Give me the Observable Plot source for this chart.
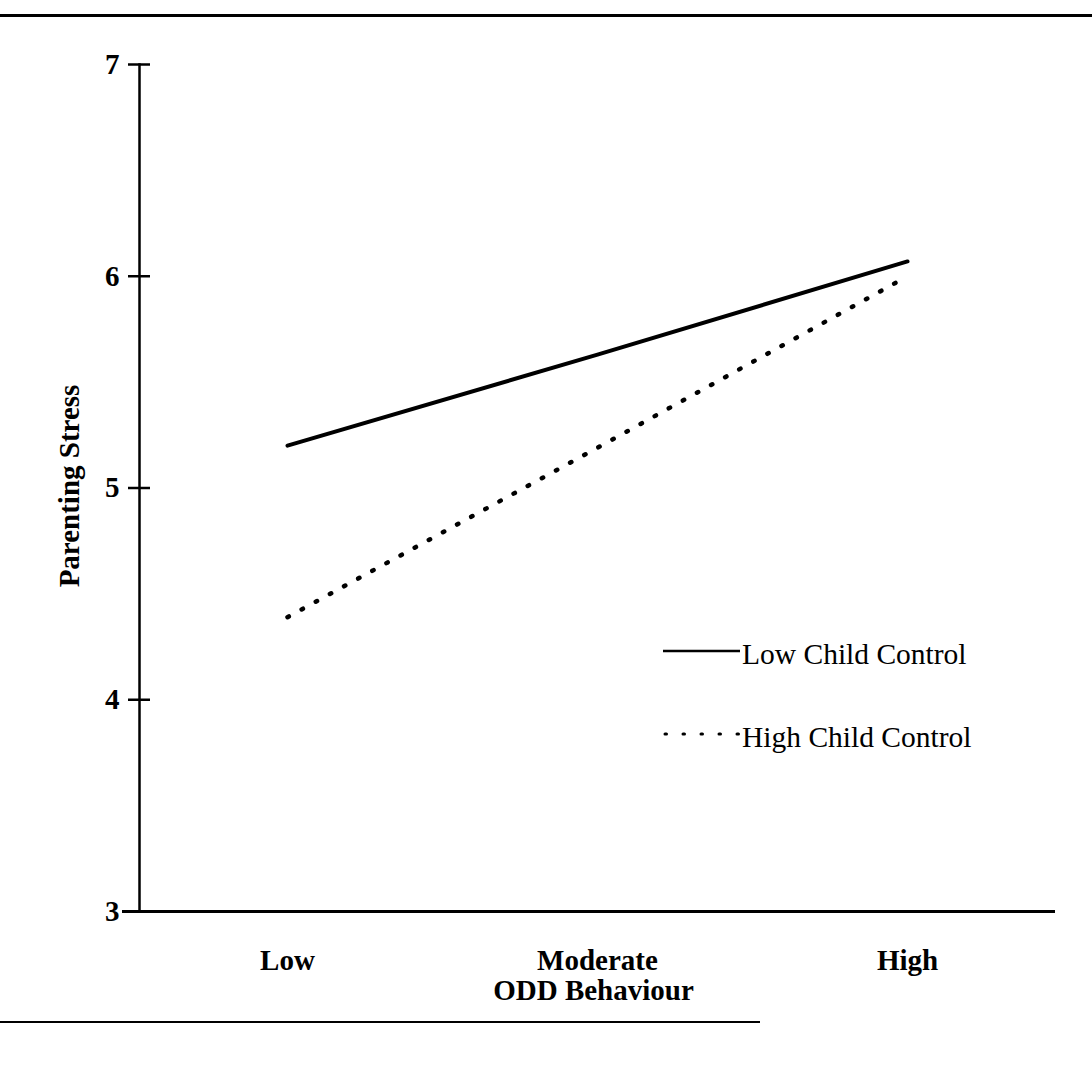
<!DOCTYPE html>
<html><head><meta charset="utf-8">
<script src="https://cdn.jsdelivr.net/npm/d3@7"></script>
<script src="https://cdn.jsdelivr.net/npm/@observablehq/plot@0.6"></script>
<style>
body{margin:0;background:#fff;}
#wrap{position:relative;width:1092px;height:1068px;overflow:hidden;background:#fff;}
#wrap svg.plot{position:absolute;left:0;top:0;}
.rule{position:absolute;background:#000;}
#legend{position:absolute;left:0;top:0;}
</style></head><body>
<div id="wrap"></div>
<script>
// ---- data ----
const categories = ["Low", "Moderate", "High"];
const lowChildControl = [5.20, 5.63, 6.07];
const highChildControl = [4.39, 5.19, 6.00];
const yTicks = [3, 4, 5, 6, 7];
const seriesNames = ["Low Child Control", "High Child Control"];
const xTitle = "ODD Behaviour";
const yTitle = "Parenting Stress";

const rows = [];
categories.forEach((c, i) => {
  rows.push({odd: c, stress: lowChildControl[i], series: seriesNames[0]});
  rows.push({odd: c, stress: highChildControl[i], series: seriesNames[1]});
});

const serif = "'Liberation Serif', 'Times New Roman', serif";
const W = 1092, H = 1068, mL = 139, mR = 37, mT = 64, mB = 157;
const frameW = W - mL - mR;

const chart = Plot.plot({
  width: W,
  height: H,
  marginLeft: mL,
  marginRight: mR,
  marginTop: mT,
  marginBottom: mB,
  style: {fontFamily: serif, background: "white", color: "black"},
  x: {type: "point", domain: categories, padding: 0.473, axis: null},
  y: {domain: [3, 7], axis: null},
  marks: [
    // axis lines
    Plot.frame({anchor: "left", stroke: "black", strokeWidth: 2.5}),
    Plot.ruleY([3], {stroke: "black", strokeWidth: 3, insetLeft: -17}),
    // y ticks crossing the axis
    Plot.tickY(yTicks, {y: d => d, stroke: "black", strokeWidth: 2.5, insetLeft: -11, insetRight: frameW - 11}),
    // y tick labels
    Plot.axisY(yTicks, {anchor: "left", tickSize: 0, tickPadding: 20, fontSize: 29, fontWeight: "bold", tickFormat: d => String(d), label: null}),
    // x tick labels
    Plot.axisX(categories, {anchor: "bottom", tickSize: 0, tickPadding: 38, fontSize: 29, fontWeight: "bold", label: null}),
    // axis titles
    Plot.text([xTitle], {frameAnchor: "bottom", dx: -4, dy: 79, fontSize: 29, fontWeight: "bold", lineAnchor: "middle", textAnchor: "middle"}),
    Plot.text([yTitle], {frameAnchor: "left", dx: -70, dy: -2, rotate: -90, fontSize: 29, fontWeight: "bold", lineAnchor: "middle", textAnchor: "middle"}),
    // series
    Plot.line(rows.filter(d => d.series === seriesNames[0]), {x: "odd", y: "stress", stroke: "black", strokeWidth: 4}),
    Plot.line(rows.filter(d => d.series === seriesNames[1]), {x: "odd", y: "stress", stroke: "black", strokeWidth: 4.5, strokeDasharray: "1.5,14.6", strokeLinecap: "round"})
  ]
});
chart.classList.add("plot");
const wrap = document.getElementById("wrap");
wrap.appendChild(chart);

// page rules of the scanned figure
const topRule = document.createElement("div");
topRule.className = "rule";
Object.assign(topRule.style, {left: "0px", top: "14px", width: "1092px", height: "2.5px"});
wrap.appendChild(topRule);
const bottomRule = document.createElement("div");
bottomRule.className = "rule";
Object.assign(bottomRule.style, {left: "0px", top: "1021px", width: "760px", height: "2px"});
wrap.appendChild(bottomRule);

// legend (inside plot area)
const ns = "http://www.w3.org/2000/svg";
const leg = document.createElementNS(ns, "svg");
leg.setAttribute("id", "legend");
leg.setAttribute("width", "1092");
leg.setAttribute("height", "1068");
const legendItems = [
  {name: seriesNames[0], y: 651, dash: null, w: 2.6, cap: "butt"},
  {name: seriesNames[1], y: 734, dash: "1.5,16.5", w: 3, cap: "round"}
];
legendItems.forEach(it => {
  const l = document.createElementNS(ns, "line");
  l.setAttribute("x1", it.dash ? 665 : 663); l.setAttribute("x2", 740);
  l.setAttribute("y1", it.y); l.setAttribute("y2", it.y);
  l.setAttribute("stroke", "black"); l.setAttribute("stroke-width", it.w);
  l.setAttribute("stroke-linecap", it.cap);
  if (it.dash) l.setAttribute("stroke-dasharray", it.dash);
  leg.appendChild(l);
  const t = document.createElementNS(ns, "text");
  t.setAttribute("x", 742); t.setAttribute("y", it.y + 13);
  t.setAttribute("font-family", "Liberation Serif, Times New Roman, serif");
  t.setAttribute("font-size", 29.5);
  t.textContent = it.name;
  leg.appendChild(t);
});
wrap.appendChild(leg);
</script>
</body></html>
